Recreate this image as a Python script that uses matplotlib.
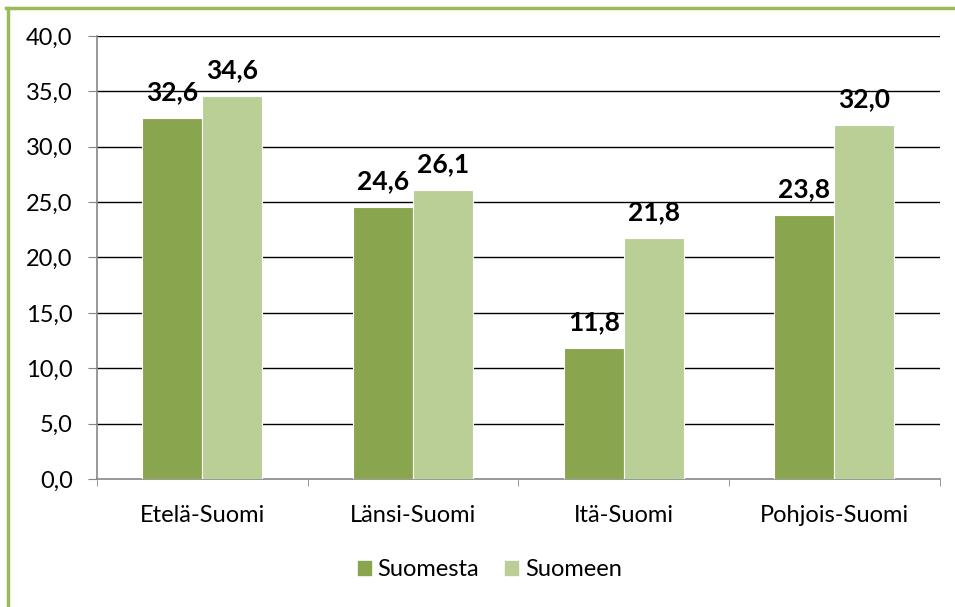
import matplotlib.pyplot as plt
import numpy as np
from matplotlib.lines import Line2D
from matplotlib.patches import Patch

regions = ['Etelä-Suomi', 'Länsi-Suomi', 'Itä-Suomi', 'Pohjois-Suomi']
suomesta = [32.6, 24.6, 11.8, 23.8]
suomeen = [34.6, 26.1, 21.8, 32.0]
series_names = ['Suomesta', 'Suomeen']

dark = '#89a54e'
light = '#b9cf96'
frame = '#9bbb59'

plt.rcParams['font.family'] = ['Lato', 'DejaVu Sans']

fig = plt.figure(figsize=(9.55, 6.07), dpi=100)
ax = fig.add_axes([0.1016, 0.2109, 0.8824, 0.7298])

x = np.arange(len(regions))
w = 0.285
b1 = ax.bar(x - w, suomesta, w, align='edge', color=dark, edgecolor='white', linewidth=0.8, zorder=3)
b2 = ax.bar(x, suomeen, w, align='edge', color=light, edgecolor='white', linewidth=0.8, zorder=3)

def fmt(v):
    return f'{v:.1f}'.replace('.', ',')

for bars, vals in [(b1, suomesta), (b2, suomeen)]:
    for r, v in zip(bars, vals):
        ax.annotate(fmt(v), (r.get_x() + r.get_width() / 2, v), xytext=(0, 10),
                    textcoords='offset points', ha='center', va='bottom',
                    fontsize=19, fontweight='bold', color='black', zorder=4)

ax.set_xlim(-0.5, 3.5)
ax.set_ylim(0, 40)
yt = np.arange(0, 41, 5)
ax.set_yticks(yt)
ax.set_yticklabels([fmt(v) for v in yt], fontsize=17)
ax.set_xticks(x)
ax.set_xticklabels(regions, fontsize=17)
ax.set_xticks(np.arange(-0.5, 4, 1), minor=True)
ax.tick_params(axis='x', which='major', length=0, pad=19)
ax.tick_params(axis='x', which='minor', length=5, color='#868686', direction='out')
ax.tick_params(axis='y', length=6.5, color='#868686', direction='out', pad=11)

for y in yt[1:]:
    ax.axhline(y, color='black', linewidth=1, zorder=1)

for s in ['top', 'right']:
    ax.spines[s].set_visible(False)
for s in ['left', 'bottom']:
    ax.spines[s].set_color('#868686')
    ax.spines[s].set_linewidth(1.2)

handles = [Patch(color=dark), Patch(color=light)]
fig.legend(handles, series_names, loc='center', bbox_to_anchor=(0.513, 0.061), ncol=2,
           frameon=False, fontsize=17, handlelength=0.55, handleheight=0.55,
           handletextpad=0.3, columnspacing=1.1)

# green frame on top and left
fig.add_artist(Line2D([0.006, 1.0], [0.987, 0.987], color=frame, linewidth=2.5, transform=fig.transFigure))
fig.add_artist(Line2D([0.008, 0.008], [0.0, 0.987], color=frame, linewidth=2.5, transform=fig.transFigure))

fig.savefig('out.png', dpi=100)
